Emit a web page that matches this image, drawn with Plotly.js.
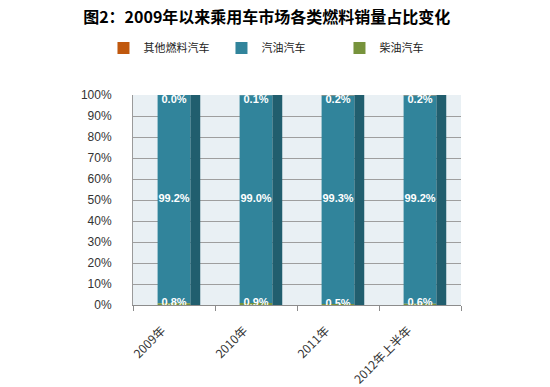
<!DOCTYPE html>
<html><head><meta charset="utf-8">
<script src="https://cdn.plot.ly/plotly-3.0.1.min.js"></script>
<style>html,body{margin:0;padding:0;background:#fff}#chart{width:550px;height:387px}</style>
</head><body><div id="chart"></div>
<script>
const categories = ['2009年', '2010年', '2011年', '2012年上半年'];
const otherFuel = [0.0, 0.1, 0.2, 0.2];
const gasoline = [99.2, 99.0, 99.3, 99.2];
const diesel = [0.8, 0.9, 0.5, 0.6];
const seriesNames = ['其他燃料汽车', '汽油汽车', '柴油汽车'];
const tickVals = [0, 10, 20, 30, 40, 50, 60, 70, 80, 90, 100];
const tickText = tickVals.map(v => v + '%');

const fmt = v => v.toFixed(1) + '%';
const gasBase = diesel.slice();
const otherBase = diesel.map((d, i) => d + gasoline[i]);
const totals = otherBase.map((b, i) => b + otherFuel[i]);

const labelFont = {family: 'Liberation Sans, Arial, sans-serif', size: 11, color: '#ffffff', weight: 'bold'};

const traces = [
  {type: 'bar', name: seriesNames[0], x: categories, y: otherFuel, base: otherBase,
   width: 0.4, offset: -0.2, marker: {color: '#C0580E'}, hoverinfo: 'skip'},
  {type: 'bar', name: seriesNames[1], x: categories, y: gasoline, base: gasBase,
   width: 0.4, offset: -0.2, marker: {color: '#31849B'}, hoverinfo: 'skip'},
  {type: 'bar', name: seriesNames[2], x: categories, y: diesel, base: 0,
   width: 0.4, offset: -0.2, marker: {color: '#77933C'}, hoverinfo: 'skip'},
  // darker side face of each column
  {type: 'bar', x: categories, y: totals, base: 0, width: 0.12, offset: 0.2,
   marker: {color: '#215E6E'}, showlegend: false, hoverinfo: 'skip'},
  // labels
  {type: 'scatter', mode: 'text', x: categories, y: totals, text: otherFuel.map(fmt),
   textposition: 'bottom center', textfont: labelFont, showlegend: false, hoverinfo: 'skip', cliponaxis: false},
  {type: 'scatter', mode: 'text', x: categories, y: gasoline.map((g, i) => gasBase[i] + g / 2),
   text: gasoline.map(fmt), textposition: 'middle center', textfont: labelFont, showlegend: false, hoverinfo: 'skip'},
  {type: 'scatter', mode: 'text', x: categories, y: diesel, text: diesel.map(fmt),
   textposition: 'middle center', textfont: labelFont, showlegend: false, hoverinfo: 'skip', cliponaxis: false}
];

const layout = {
  width: 550, height: 387,
  margin: {l: 133, r: 89, t: 95, b: 82},
  paper_bgcolor: '#ffffff',
  plot_bgcolor: '#E9F0F4',
  barmode: 'overlay',
  title: {text: '<b>图2：2009年以来乘用车市场各类燃料销量占比变化</b>',
    font: {family: 'Noto Sans CJK SC, sans-serif', size: 16, color: '#000'},
    x: 0.485, xanchor: 'center', y: 0.955, yanchor: 'middle'},
  showlegend: true,
  legend: {orientation: 'h', x: -0.09, xanchor: 'left', y: 1.224, yanchor: 'middle',
    traceorder: 'normal', entrywidth: 73, entrywidthmode: 'pixels',
    font: {family: 'Noto Sans CJK SC, sans-serif', size: 11, color: '#222'},
    itemwidth: 30, bgcolor: 'rgba(0,0,0,0)'},
  xaxis: {type: 'category', categoryorder: 'array', categoryarray: categories,
    tickangle: -45, tickfont: {family: 'Noto Sans CJK SC, Liberation Sans, sans-serif', size: 12, color: '#333'},
    showline: true, linecolor: '#8c8c8c', linewidth: 1, ticks: 'outside', tickson: 'boundaries',
    ticklen: 5, tickcolor: '#8c8c8c', showgrid: false, zeroline: false, fixedrange: true,
    ticklabelstandoff: 13, ticklabelshift: -12},
  yaxis: {range: [0, 100], tickvals: tickVals, ticktext: tickText,
    tickfont: {family: 'Liberation Sans, Arial, sans-serif', size: 12, color: '#333'},
    showgrid: true, gridcolor: '#9e9e9e', gridwidth: 1, zeroline: false,
    showline: true, linecolor: '#9a9a9a', linewidth: 1, ticklabelstandoff: 18, fixedrange: true}
};

Plotly.newPlot('chart', traces, layout, {displayModeBar: false, staticPlot: true});
</script></body></html>
